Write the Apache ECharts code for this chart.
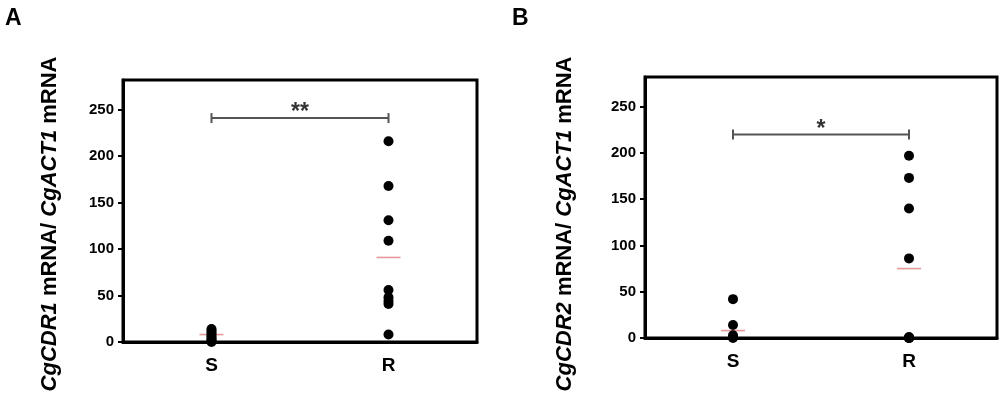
<!DOCTYPE html>
<html><head><meta charset="utf-8">
<script src="https://cdn.jsdelivr.net/npm/echarts@6/dist/echarts.min.js"></script>
<style>html,body{margin:0;padding:0;background:#fff}#c{width:1000px;height:396px}</style>
</head><body><div id="c"></div>
<script>
// ---- data ----
const categories = ['S', 'R'];
const yTicks = [0, 50, 100, 150, 200, 250];
const yMax = 282;

const panelA_S = [14, 12, 10, 8, 6, 4, 2, 1, 0];
const panelA_R = [216, 168, 131, 109, 56, 48, 44, 41, 8];
const panelA_mean = [8, 91];
const panelA_sig = ['S', 'R', 241];
const panelA_star = '**';

const panelB_S = [42, 14, 3, 1, 0];
const panelB_R = [197, 173, 140, 86, 1, 0, 0, 0];
const panelB_mean = [8, 75];
const panelB_sig = ['S', 'R', 220];
const panelB_star = '*';

const panelTitles = ['A', 'B'];
const yTitles = ['{i|CgCDR1} mRNA/ {i|CgACT1} mRNA', '{i|CgCDR2} mRNA/ {i|CgACT1} mRNA'];

// ---- chart ----
const FONT = '"Liberation Sans", Arial, Helvetica, sans-serif';
const chart = echarts.init(document.getElementById('c'), null, {renderer: 'canvas'});

function pts(cat, arr) { return arr.map(v => [cat, v]); }

function xAxisCfg(gi) {
  return {
    type: 'category', gridIndex: gi, data: categories, boundaryGap: true,
    axisLine: {lineStyle: {color: '#000', width: 3}},
    axisTick: {alignWithLabel: true, length: 5, lineStyle: {color: '#000', width: 2}},
    axisLabel: {color: '#000', fontSize: 19, fontWeight: 'bold', fontFamily: FONT, margin: 14},
    splitLine: {show: false}
  };
}
function yAxisCfg(gi) {
  return {
    type: 'value', gridIndex: gi, min: 0, max: yMax,
    axisLine: {show: true, lineStyle: {color: '#000', width: 3}},
    axisTick: {show: true, length: 5, customValues: yTicks, lineStyle: {color: '#000', width: 2}},
    axisLabel: {color: '#000', fontSize: 15, fontWeight: 'bold', fontFamily: FONT, margin: 9, customValues: yTicks},
    splitLine: {show: false}
  };
}
function bracket(label) {
  return function (params, api) {
    const p1 = api.coord([api.value(0), api.value(2)]);
    const p2 = api.coord([api.value(1), api.value(2)]);
    const st = {stroke: '#555', lineWidth: 2};
    return {type: 'group', children: [
      {type: 'line', shape: {x1: p1[0], y1: p1[1], x2: p2[0], y2: p2[1]}, style: st},
      {type: 'line', shape: {x1: p1[0], y1: p1[1] - 5, x2: p1[0], y2: p1[1] + 5}, style: st},
      {type: 'line', shape: {x1: p2[0], y1: p2[1] - 5, x2: p2[0], y2: p2[1] + 5}, style: st},
      {type: 'text', x: (p1[0] + p2[0]) / 2, y: p1[1] - 5,
        style: {text: label, fontSize: 23, fontWeight: 'bold', fontFamily: FONT, fill: '#333', align: 'center', verticalAlign: 'middle'}}
    ]};
  };
}
function panelSeries(gi, S, R, mean, sig, star) {
  return [
    {type: 'scatter', xAxisIndex: gi, yAxisIndex: gi, data: categories.map((c, i) => [c, mean[i]]),
      symbol: 'rect', symbolSize: [24, 1.6], itemStyle: {color: '#e49a9a', opacity: 1}, z: 2, silent: true},
    {type: 'scatter', xAxisIndex: gi, yAxisIndex: gi, data: pts('S', S).concat(pts('R', R)),
      symbol: 'circle', symbolSize: 10, itemStyle: {color: '#000', opacity: 1}, z: 3, silent: true},
    {type: 'custom', xAxisIndex: gi, yAxisIndex: gi, data: [sig], encode: {x: [0, 1], y: 2},
      renderItem: bracket(star), z: 4, silent: true}
  ];
}

const titleStyle = {fontSize: 22, fontWeight: 'bold', fontFamily: FONT, fill: '#000', align: 'center', verticalAlign: 'middle',
  rich: {i: {fontStyle: 'italic', fontWeight: 'bold', fontSize: 22, fontFamily: FONT}}};

chart.setOption({
  animation: false,
  backgroundColor: '#fff',
  grid: [
    {left: 123, top: 80, width: 354, height: 262, show: true, borderColor: '#000', borderWidth: 3, backgroundColor: 'transparent'},
    {left: 645, top: 77, width: 352, height: 261, show: true, borderColor: '#000', borderWidth: 3, backgroundColor: 'transparent'}
  ],
  xAxis: [xAxisCfg(0), xAxisCfg(1)],
  yAxis: [yAxisCfg(0), yAxisCfg(1)],
  series: panelSeries(0, panelA_S, panelA_R, panelA_mean, panelA_sig, panelA_star)
    .concat(panelSeries(1, panelB_S, panelB_R, panelB_mean, panelB_sig, panelB_star)),
  graphic: [
    {type: 'text', left: 5, top: 7, style: {text: panelTitles[0], fontSize: 23, fontWeight: 'bold', fontFamily: FONT, fill: '#000'}},
    {type: 'text', left: 512, top: 7, style: {text: panelTitles[1], fontSize: 23, fontWeight: 'bold', fontFamily: FONT, fill: '#000'}},
    {type: 'text', x: 50, y: 224, rotation: Math.PI / 2, style: Object.assign({text: yTitles[0]}, titleStyle)},
    {type: 'text', x: 565, y: 224, rotation: Math.PI / 2, style: Object.assign({text: yTitles[1]}, titleStyle)}
  ]
});
</script>
</body></html>
